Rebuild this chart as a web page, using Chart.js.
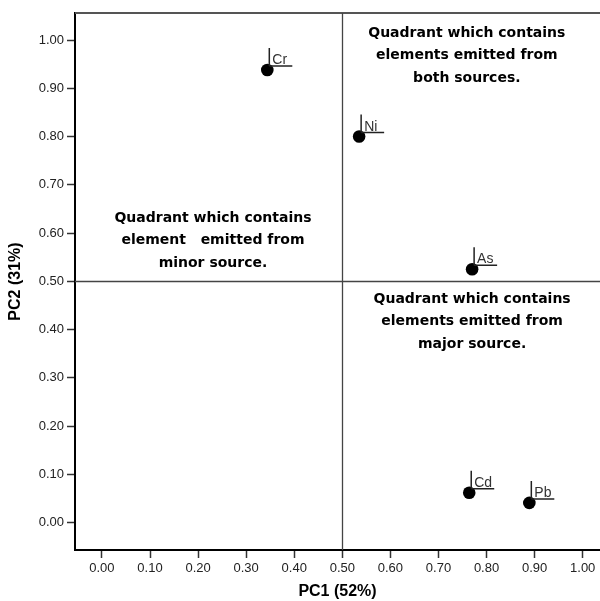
<!DOCTYPE html>
<html>
<head>
<meta charset="utf-8">
<script src="https://cdn.jsdelivr.net/npm/chart.js@4/dist/chart.umd.min.js"></script>
<style>
html,body{margin:0;padding:0;background:#fff;}
canvas{display:block;}
</style>
</head>
<body>
<canvas id="c" width="600" height="601" style="width:600px;height:601px"></canvas>
<script>
// ---- data ----
const elements = ["Cr", "Ni", "As", "Cd", "Pb"];
const pc1 = [0.344, 0.535, 0.770, 0.764, 0.889];
const pc2 = [0.938, 0.800, 0.525, 0.062, 0.041];
const tickValues = [0, 0.1, 0.2, 0.3, 0.4, 0.5, 0.6, 0.7, 0.8, 0.9, 1.0];
const xTitle = "PC1 (52%)";
const yTitle = "PC2 (31%)";
const quadrantBothLines = ["Quadrant which contains", "elements emitted from", "both sources."];
const quadrantMinorLines = ["Quadrant which contains", "element   emitted from", "minor source."];
const quadrantMajorLines = ["Quadrant which contains", "elements emitted from", "major source."];

// ---- annotation placement (data coordinates) ----
const annotations = [
  {lines: quadrantBothLines, x: 0.759, y: 1.014},
  {lines: quadrantMinorLines, x: 0.231, y: 0.631},
  {lines: quadrantMajorLines, x: 0.770, y: 0.463}
];
const divider = 0.5;

const overlay = {
  id: 'overlay',
  beforeDatasetsDraw(chart) {
    const {ctx, chartArea: a, scales: {x, y}} = chart;
    ctx.save();
    // frame top
    ctx.strokeStyle = '#555';
    ctx.lineWidth = 2;
    ctx.beginPath();
    ctx.moveTo(a.left, a.top);
    ctx.lineTo(a.right, a.top);
    ctx.stroke();
    // quadrant dividers
    ctx.strokeStyle = '#444';
    ctx.lineWidth = 1.3;
    const px = Math.round(x.getPixelForValue(divider)) + 0.5;
    const py = Math.round(y.getPixelForValue(divider)) + 0.5;
    ctx.beginPath();
    ctx.moveTo(px, a.top); ctx.lineTo(px, a.bottom);
    ctx.moveTo(a.left, py); ctx.lineTo(a.right, py);
    ctx.stroke();
    // quadrant texts
    ctx.fillStyle = '#000';
    ctx.font = 'bold 14px "DejaVu Sans"';
    ctx.textAlign = 'center';
    ctx.textBaseline = 'middle';
    annotations.forEach(an => {
      const cx = x.getPixelForValue(an.x);
      const cy = y.getPixelForValue(an.y);
      an.lines.forEach((t, i) => ctx.fillText(t, cx, cy + i * 22.5));
    });
    ctx.restore();
  },
  afterDatasetsDraw(chart) {
    const {ctx, scales: {x, y}} = chart;
    ctx.save();
    ctx.strokeStyle = '#222';
    ctx.lineWidth = 1.5;
    ctx.fillStyle = '#333';
    ctx.font = '14px "Liberation Sans"';
    ctx.textAlign = 'left';
    ctx.textBaseline = 'alphabetic';
    elements.forEach((name, i) => {
      const dx = x.getPixelForValue(pc1[i]);
      const dy = y.getPixelForValue(pc2[i]);
      ctx.beginPath();
      ctx.moveTo(dx + 2, dy - 4);
      ctx.lineTo(dx + 2, dy - 22);
      ctx.moveTo(dx + 2, dy - 4);
      ctx.lineTo(dx + 25, dy - 4);
      ctx.stroke();
      ctx.fillText(name, dx + 5, dy - 6);
    });
    ctx.restore();
  }
};

const tickFont = {family: '"Liberation Sans", Arial, sans-serif', size: 13};
const titleFont = {family: '"Liberation Sans", Arial, sans-serif', size: 16, weight: 'bold'};

new Chart(document.getElementById('c'), {
  type: 'scatter',
  data: {
    datasets: [{
      data: pc1.map((v, i) => ({x: v, y: pc2[i]})),
      backgroundColor: '#000',
      borderColor: '#000',
      borderWidth: 0,
      pointRadius: 6.3,
      pointHoverRadius: 6.3
    }]
  },
  options: {
    responsive: false,
    animation: false,
    events: [],
    layout: {autoPadding: false, padding: {top: 13, right: 0, left: 0, bottom: 0}},
    plugins: {legend: {display: false}, tooltip: {enabled: false}},
    scales: {
      x: {
        type: 'linear',
        min: -0.056, max: 1.036,
        afterBuildTicks: s => { s.ticks = tickValues.map(v => ({value: v})); },
        afterFit: s => { s.height = 51; s.paddingRight = 0; s.paddingLeft = 0; },
        ticks: {callback: v => Number(v).toFixed(2), font: tickFont, color: '#222', padding: 3, maxRotation: 0, autoSkip: false},
        grid: {drawOnChartArea: false, drawTicks: true, tickLength: 8, color: '#333', tickWidth: 1.5},
        border: {display: true, color: '#000', width: 2},
        title: {display: true, text: xTitle, font: titleFont, color: '#000', padding: {top: 0, bottom: 0}}
      },
      y: {
        type: 'linear',
        min: -0.0566, max: 1.056,
        afterBuildTicks: s => { s.ticks = tickValues.map(v => ({value: v})); },
        afterFit: s => { s.width = 75; s.paddingTop = 0; s.paddingBottom = 0; },
        ticks: {callback: v => Number(v).toFixed(2), font: tickFont, color: '#222', padding: 3, autoSkip: false},
        grid: {drawOnChartArea: false, drawTicks: true, tickLength: 8, color: '#333', tickWidth: 1.5},
        border: {display: true, color: '#000', width: 2},
        title: {display: true, text: yTitle, font: titleFont, color: '#000', padding: {top: 6, bottom: 0}}
      }
    }
  },
  plugins: [overlay]
});
</script>
</body>
</html>
